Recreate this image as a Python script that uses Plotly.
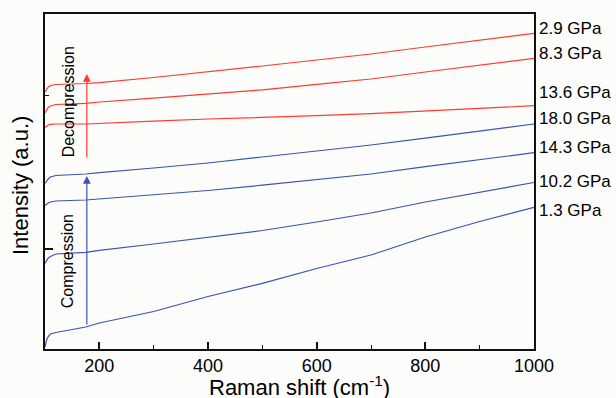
import plotly.graph_objects as go

# Raman shift sample positions (cm^-1)
raman_shift = [100, 103, 106, 110, 120, 175, 200, 300, 400, 500, 600, 700, 800, 900, 1000]

# Intensities (a.u., offset stacked)
i_2p9 = [257, 260, 262, 263.5, 264.5, 265.5, 266.3, 271.5, 277, 283, 289, 295, 302, 308.5, 315.7]
i_8p3 = [236, 239.5, 241.5, 243, 244.5, 245.7, 247, 250.8, 254.8, 259.2, 264.7, 270, 277, 284, 290.7]
i_13p6 = [221.5, 223, 224, 224.7, 225, 225, 225.7, 227.8, 230, 231.3, 233.3, 235.3, 237.9, 240.7, 243.3]
i_18p0 = [165.5, 168, 170, 172, 173.5, 175, 176.4, 181, 186, 192, 198, 204, 210.8, 218, 225]
i_14p3 = [143.5, 145, 146, 147, 148, 149, 150, 154, 158.5, 163.8, 169.5, 175, 182.4, 189.5, 196.3]
i_10p2 = [85.5, 89, 91, 92.5, 95, 96.7, 98.6, 105, 111.5, 118.5, 127, 136, 147, 156.5, 166.5]
i_1p3 = [2, 9, 12.5, 15, 16.5, 22, 26, 37.5, 52.5, 65.7, 80.5, 94, 112, 127.5, 141.7]

series_names = ["2.9 GPa", "8.3 GPa", "13.6 GPa", "18.0 GPa", "14.3 GPa", "10.2 GPa", "1.3 GPa"]
series_values = [i_2p9, i_8p3, i_13p6, i_18p0, i_14p3, i_10p2, i_1p3]
series_kind = ["dec", "dec", "dec", "com", "com", "com", "com"]
label_y = [321, 296, 257, 231, 202, 168, 139]

RED = "#FF3B2E"
BLUE = "#3C53B4"
FONT = "Arial, Liberation Sans, sans-serif"

W, H = 616, 398
L, R, T, B = 45, 82, 14, 49
pw, ph = W - L - R, H - T - B

fig = go.Figure()
for name, vals, kind in zip(series_names, series_values, series_kind):
    fig.add_trace(go.Scatter(
        x=raman_shift, y=vals, mode="lines", name=name,
        line=dict(color=RED if kind == "dec" else BLUE, width=1.2),
        showlegend=False,
    ))

annotations = []
for name, ly in zip(series_names, label_y):
    annotations.append(dict(
        x=1000, y=ly, xref="x", yref="y", text=name, showarrow=False,
        xanchor="left", yanchor="middle", xshift=3,
        font=dict(family=FONT, size=17, color="black"),
    ))

# arrows
annotations.append(dict(x=177, y=275, ax=177, ay=190, xref="x", yref="y",
                        axref="x", ayref="y", text="", showarrow=True,
                        arrowhead=2, arrowsize=1.3, arrowwidth=1.2, arrowcolor=RED))
annotations.append(dict(x=177, y=173, ax=177, ay=23, xref="x", yref="y",
                        axref="x", ayref="y", text="", showarrow=True,
                        arrowhead=2, arrowsize=1.3, arrowwidth=1.2, arrowcolor=BLUE))
annotations.append(dict(x=143, y=247, xref="x", yref="y", text="Decompression",
                        showarrow=False, textangle=-90, xanchor="center", yanchor="middle",
                        font=dict(family=FONT, size=16, color="black")))
annotations.append(dict(x=141, y=88, xref="x", yref="y", text="Compression",
                        showarrow=False, textangle=-90, xanchor="center", yanchor="middle",
                        font=dict(family=FONT, size=16, color="black")))
# axis titles (placed in pixels converted to paper coordinates)
annotations.append(dict(x=(299 - L) / pw, y=(H - B - 386) / ph, xref="paper", yref="paper",
                        text="Raman shift (cm<sup>-1</sup>)", showarrow=False,
                        xanchor="center", yanchor="middle",
                        font=dict(family=FONT, size=22, color="black")))
annotations.append(dict(x=(20 - L) / pw, y=(H - B - 186) / ph, xref="paper", yref="paper",
                        text="Intensity (a.u.)", showarrow=False, textangle=-90,
                        xanchor="center", yanchor="middle",
                        font=dict(family=FONT, size=22, color="black")))

fig.update_layout(
    width=W, height=H,
    margin=dict(l=L, r=R, t=T, b=B, pad=0),
    paper_bgcolor="#FCFCFA", plot_bgcolor="#FCFCFA",
    font=dict(family=FONT, color="black"),
    annotations=annotations,
)
fig.update_xaxes(
    range=[100, 1000], showgrid=False, zeroline=False,
    showline=True, linecolor="#111", linewidth=1.5, mirror=True,
    ticks="inside", ticklen=7, tickwidth=1.5, tickcolor="#111",
    tickvals=[200, 400, 600, 800, 1000],
    tickfont=dict(family=FONT, size=18, color="black"),
    minor=dict(tickvals=[300, 500, 700, 900], ticks="inside", ticklen=4, tickwidth=1.3, tickcolor="#111"),
)
fig.update_yaxes(
    range=[0, 335], showgrid=False, zeroline=False,
    showline=True, linecolor="#111", linewidth=1.5, mirror=True,
    ticks="inside", ticklen=8, tickwidth=1.5, tickcolor="#111",
    tickvals=[100], showticklabels=False,
    minor=dict(tickvals=[254], ticks="inside", ticklen=4, tickwidth=1.3, tickcolor="#111"),
)

fig.write_html("out.html", config={"displayModeBar": False},
               post_script="document.body.style.margin='0px';document.body.style.padding='0px';")
